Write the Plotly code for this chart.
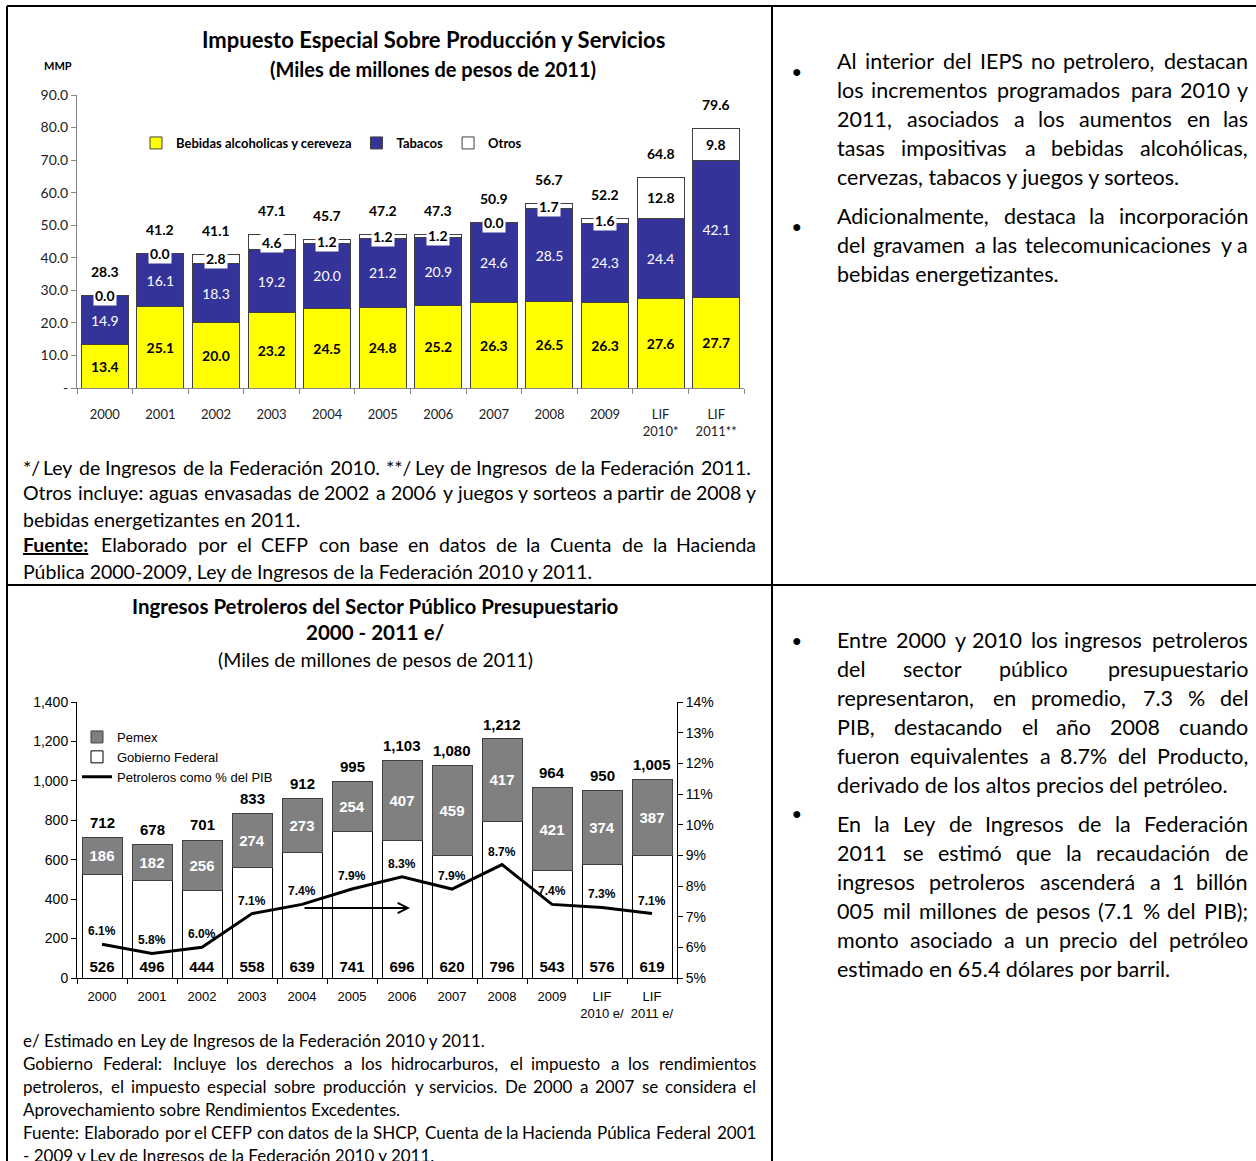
import re
import unicodedata
import plotly.graph_objects as go

# Impuesto Especial Sobre Producción y Servicios (miles de millones de pesos de 2011)
anios_ieps = ["2000", "2001", "2002", "2003", "2004", "2005", "2006", "2007",
              "2008", "2009", "LIF<br>2010*", "LIF<br>2011**"]
bebidas = [13.4, 25.1, 20.0, 23.2, 24.5, 24.8, 25.2, 26.3, 26.5, 26.3, 27.6, 27.7]
tabacos = [14.9, 16.1, 18.3, 19.2, 20.0, 21.2, 20.9, 24.6, 28.5, 24.3, 24.4, 42.1]
otros = [0.0, 0.0, 2.8, 4.6, 1.2, 1.2, 1.2, 0.0, 1.7, 1.6, 12.8, 9.8]
total_ieps = [28.3, 41.2, 41.1, 47.1, 45.7, 47.2, 47.3, 50.9, 56.7, 52.2, 64.8, 79.6]

# Ingresos petroleros del sector público presupuestario
anios_pet = ["2000", "2001", "2002", "2003", "2004", "2005", "2006", "2007",
             "2008", "2009", "LIF<br>2010 e/", "LIF<br>2011 e/"]
gob_federal = [526, 496, 444, 558, 639, 741, 696, 620, 796, 543, 576, 619]
pemex = [186, 182, 256, 274, 273, 254, 407, 459, 417, 421, 374, 387]
total_pet = [712, 678, 701, 833, 912, 995, 1103, 1080, 1212, 964, 950, 1005]
pct_pib = [6.1, 5.8, 6.0, 7.1, 7.4, 7.9, 8.3, 7.9, 8.7, 7.4, 7.3, 7.1]

# Textos de la página
notas_ieps = [
    "*/ Ley de Ingresos de la Federación 2010. **/ Ley de Ingresos de la Federación 2011.",
    "Otros incluye: aguas envasadas de 2002 a 2006 y juegos y sorteos a partir de 2008 y",
    "bebidas energetizantes en 2011.",
    "<b><span style='text-decoration:underline'>Fuente:</span></b> Elaborado por el CEFP con base en datos de la Cuenta de la Hacienda",
    "Pública 2000-2009, Ley de Ingresos de la Federación 2010 y 2011.",
]
notas_pet = [
    "e/ Estimado en Ley de Ingresos de la Federación 2010 y 2011.",
    "Gobierno Federal: Incluye los derechos a los hidrocarburos, el impuesto a los rendimientos",
    "petroleros, el impuesto especial sobre producción y servicios. De 2000 a 2007 se considera el",
    "Aprovechamiento sobre Rendimientos Excedentes.",
    "Fuente: Elaborado por el CEFP con datos de la SHCP, Cuenta de la Hacienda Pública Federal 2001",
    "- 2009 y Ley de Ingresos de la Federación 2010 y 2011.",
]
texto_ieps = [
    "Al interior del IEPS no petrolero, destacan",
    "los incrementos programados para 2010 y",
    "2011, asociados a los aumentos en las",
    "tasas impositivas a bebidas alcohólicas,",
    "cervezas, tabacos y juegos y sorteos.",
    "Adicionalmente, destaca la incorporación",
    "del gravamen a las telecomunicaciones y a",
    "bebidas energetizantes.",
]
texto_pet = [
    "Entre 2000 y 2010 los ingresos petroleros",
    "del sector público presupuestario",
    "representaron, en promedio, 7.3 % del",
    "PIB, destacando el año 2008 cuando",
    "fueron equivalentes a 8.7% del Producto,",
    "derivado de los altos precios del petróleo.",
    "En la Ley de Ingresos de la Federación",
    "2011 se estimó que la recaudación de",
    "ingresos petroleros ascenderá a 1 billón",
    "005 mil millones de pesos (7.1 % del PIB);",
    "monto asociado a un precio del petróleo",
    "estimado en 65.4 dólares por barril.",
]

W, H = 1256, 1161
CAL = "Lato"
ARIAL = "Liberation Sans"

# anchos aproximados de Lato (fracción de em) para justificar el texto
ANCHO = {
    'a': .484, 'b': .548, 'c': .459, 'd': .548, 'e': .515, 'f': .323, 'g': .50, 'h': .546,
    'i': .233, 'j': .233, 'k': .49, 'l': .233, 'm': .82, 'n': .546, 'o': .549, 'p': .548,
    'q': .548, 'r': .37, 's': .423, 't': .347, 'u': .546, 'v': .49, 'w': .75, 'x': .47,
    'y': .49, 'z': .44,
    'A': .68, 'B': .64, 'C': .67, 'D': .74, 'E': .56, 'F': .54, 'G': .72, 'H': .75, 'I': .29,
    'J': .39, 'K': .66, 'L': .50, 'M': .90, 'N': .75, 'O': .79, 'P': .60, 'Q': .79, 'R': .62,
    'S': .52, 'T': .58, 'U': .72, 'V': .68, 'W': 1.0, 'X': .66, 'Y': .63, 'Z': .60,
    ',': .20, '.': .20, ':': .24, ';': .24, '%': .80, '(': .30, ')': .30, '/': .37,
    '*': .40, '-': .33,
}


def px(x):
    return x / W


def py(y):
    return 1 - y / H


def ancho_palabra(palabra, size):
    limpio = re.sub(r"<[^>]+>", "", palabra)
    total = 0
    for c in limpio:
        base = unicodedata.normalize("NFD", c)[0]
        total += 0.58 if base.isdigit() else ANCHO.get(base, 0.5)
    if "<b>" in palabra:
        total *= 1.05
    return total * size * 1.045


def linea(fig, texto, x0, x1, y, size, justificar=False):
    font = dict(family=CAL, size=size, color="black")
    comun = dict(xref="paper", yref="paper", showarrow=False, yanchor="middle",
                 borderpad=0, font=font)
    if not justificar:
        fig.add_annotation(x=px(x0), y=py(y), text=texto, xanchor="left", **comun)
        return
    palabras = re.split(r" (?![^<]*>)", texto)
    anchos = [ancho_palabra(p, size) for p in palabras]
    hueco = (x1 - x0 - sum(anchos)) / (len(palabras) - 1)
    x = x0
    for i, p in enumerate(palabras):
        if i == len(palabras) - 1:
            fig.add_annotation(x=px(x1), y=py(y), text=p, xanchor="right", **comun)
        else:
            fig.add_annotation(x=px(x), y=py(y), text=p, xanchor="left", **comun)
        x += anchos[i] + hueco


fig = go.Figure()

# ---- Grafico 1: IEPS ----
borde = dict(color="#404040", width=1)
fig.add_trace(go.Bar(x=anios_ieps, y=bebidas, name="Bebidas alcoholicas y cereveza",
                     marker=dict(color="#FFFF00", line=borde), width=0.845,
                     texttemplate="%{y:.1f}", textposition="inside", textangle=0,
                     insidetextanchor="middle",
                     textfont=dict(family=CAL, size=14, color="black", weight="bold"),
                     xaxis="x", yaxis="y", legend="legend"))
fig.add_trace(go.Bar(x=anios_ieps, y=tabacos, name="Tabacos",
                     marker=dict(color="#333399", line=borde), width=0.845,
                     texttemplate="%{y:.1f}", textposition="inside", textangle=0,
                     insidetextanchor="middle",
                     textfont=dict(family=CAL, size=14, color="white"),
                     xaxis="x", yaxis="y", legend="legend"))
fig.add_trace(go.Bar(x=anios_ieps, y=otros, name="Otros",
                     marker=dict(color="white", line=borde), width=0.845,
                     xaxis="x", yaxis="y", legend="legend"))

for i in range(len(anios_ieps)):
    medio = bebidas[i] + tabacos[i] + otros[i] / 2
    fig.add_annotation(x=i, y=medio, xref="x", yref="y", text=f"<b>{otros[i]:.1f}</b>",
                       showarrow=False, bgcolor="white", borderpad=1,
                       font=dict(family=CAL, size=14, color="black"))
    fig.add_annotation(x=i, y=total_ieps[i], xref="x", yref="y",
                       text=f"<b>{total_ieps[i]:.1f}</b>", showarrow=False,
                       yanchor="middle", yshift=24,
                       font=dict(family=CAL, size=14, color="black"))

# ---- Grafico 2: Ingresos petroleros ----
fig.add_trace(go.Bar(x=anios_pet, y=gob_federal, name="Gobierno Federal",
                     marker=dict(color="white", line=dict(color="black", width=1)), width=0.8,
                     texttemplate="%{y}", textposition="inside", textangle=0,
                     insidetextanchor="start",
                     textfont=dict(family=ARIAL, size=15, color="black", weight="bold"),
                     xaxis="x2", yaxis="y2", legend="legend2", legendrank=2))
fig.add_trace(go.Bar(x=anios_pet, y=pemex, name="Pemex",
                     marker=dict(color="#808080", line=dict(color="#404040", width=1)), width=0.8,
                     texttemplate="%{y}", textposition="inside", textangle=0,
                     insidetextanchor="middle",
                     textfont=dict(family=ARIAL, size=15, color="white", weight="bold"),
                     xaxis="x2", yaxis="y2", legend="legend2", legendrank=1))
fig.add_trace(go.Scatter(x=anios_pet, y=pct_pib, name="Petroleros como % del PIB",
                         mode="lines", line=dict(color="black", width=3),
                         xaxis="x2", yaxis="y3", legend="legend2", legendrank=3))

for i in range(len(anios_pet)):
    fig.add_annotation(x=i, y=total_pet[i], xref="x2", yref="y2",
                       text=f"<b>{total_pet[i]:,}</b>", showarrow=False,
                       yanchor="middle", yshift=15,
                       font=dict(family=ARIAL, size=15, color="black"))
    fig.add_annotation(x=i, y=pct_pib[i], xref="x2", yref="y3",
                       text=f"<b>{pct_pib[i]:.1f}%</b>", showarrow=False,
                       yanchor="middle", yshift=13,
                       font=dict(family=ARIAL, size=12, color="black"))

# flecha horizontal dentro del grafico
fig.add_annotation(x=6.16, y=355, ax=4.02, ay=355, xref="x2", yref="y2",
                   axref="x2", ayref="y2", text="", showarrow=True,
                   arrowhead=5, arrowsize=1, arrowwidth=2, arrowcolor="black")

# ---- Titulos ----
titulos = [
    ("<b>Impuesto Especial Sobre Producción y Servicios</b>", 433, 40, 22, CAL),
    ("<b>(Miles de millones de pesos de 2011)</b>", 433, 69, 20, CAL),
    ("<b>MMP</b>", 58, 65, 11, CAL),
    ("<b>Ingresos Petroleros del Sector Público Presupuestario</b>", 375, 606, 20.5, CAL),
    ("<b>2000 - 2011 e/</b>", 375, 632, 20.5, CAL),
    ("(Miles de millones de pesos de 2011)", 375, 659, 19.5, CAL),
]
for texto, x, y, size, fam in titulos:
    fig.add_annotation(x=px(x), y=py(y), xref="paper", yref="paper", text=texto,
                       showarrow=False, xanchor="center", yanchor="middle",
                       font=dict(family=fam, size=size, color="black"))

# ---- Notas al pie ----
for i, t in enumerate(notas_ieps):
    linea(fig, t, 22, [752, 757, 0, 757, 0][i], 467 + 26 * i, 19.5, i in (0, 1, 3))
for i, t in enumerate(notas_pet):
    linea(fig, t, 22, 757, 1040 + 23 * i, 17, i in (1, 2, 4))

# ---- Texto de la columna derecha ----
y_ieps = [61, 90, 119, 148, 177, 216, 245, 274]
for i, t in enumerate(texto_ieps):
    linea(fig, t, 836, 1249, y_ieps[i], 21.5, i not in (4, 7))
y_pet = [640, 669, 698, 727, 756, 785, 824, 853, 882, 911, 940, 969]
for i, t in enumerate(texto_pet):
    linea(fig, t, 836, 1249, y_pet[i], 21.5, i not in (5, 11))
for yb in (61, 216, 640, 824):
    fig.add_annotation(x=px(797), y=py(yb), xref="paper", yref="paper", text="●",
                       showarrow=False, font=dict(family=ARIAL, size=16, color="black"))

# ---- Bordes de la tabla ----
for x0, y0, x1, y1 in [(7, 6, 1256, 6), (7, 6, 7, 1161), (772, 6, 772, 1161), (7, 585, 1256, 585)]:
    fig.add_shape(type="line", xref="paper", yref="paper",
                  x0=px(x0), y0=py(y0), x1=px(x1), y1=py(y1),
                  line=dict(color="black", width=2))

gris = "#868686"
fig.update_layout(
    template="none",
    width=W, height=H, margin=dict(l=0, r=0, t=0, b=0, pad=0),
    paper_bgcolor="white", plot_bgcolor="white",
    barmode="stack", showlegend=True,
    xaxis=dict(domain=[px(77), px(744)], anchor="y", type="category",
               categoryarray=anios_ieps, range=[-0.5, 11.5], automargin=False,
               showline=True, linecolor=gris, ticks="outside", tickson="boundaries",
               ticklen=5, tickcolor=gris, ticklabelstandoff=14, tickangle=0,
               showgrid=False, zeroline=False,
               tickfont=dict(family=CAL, size=13, color="#222")),
    yaxis=dict(domain=[py(388), py(95)], anchor="x", range=[0, 90], automargin=False,
               tickvals=[0, 10, 20, 30, 40, 50, 60, 70, 80, 90],
               ticktext=["-", "10.0", "20.0", "30.0", "40.0", "50.0", "60.0", "70.0", "80.0", "90.0"],
               showline=True, linecolor=gris, ticks="outside", ticklen=5, tickcolor=gris,
               showgrid=False, zeroline=False,
               tickfont=dict(family=CAL, size=14, color="#222")),
    xaxis2=dict(domain=[px(77), px(677)], anchor="y2", type="category",
                categoryarray=anios_pet, range=[-0.5, 11.5], automargin=False,
                showline=True, linecolor="black", ticks="outside", tickson="boundaries",
                ticklen=5, tickcolor="black", ticklabelstandoff=6, tickangle=0,
                showgrid=False, zeroline=False,
                tickfont=dict(family=ARIAL, size=13, color="black")),
    yaxis2=dict(domain=[py(978), py(702)], anchor="x2", range=[0, 1400], dtick=200,
                tickformat=",", automargin=False,
                showline=True, linecolor="black", ticks="outside",
                ticklen=5, tickcolor="black", showgrid=False, zeroline=False,
                tickfont=dict(family=ARIAL, size=14, color="black")),
    yaxis3=dict(overlaying="y2", side="right", anchor="x2", range=[5, 14], dtick=1,
                ticksuffix="%", automargin=False,
                showline=True, linecolor="black", ticks="outside",
                ticklen=5, tickcolor="black", showgrid=False, zeroline=False,
                tickfont=dict(family=ARIAL, size=14, color="black")),
    yaxis4=dict(overlaying="y2", side="right", anchor="x2", range=[5, 14], dtick=1,
                automargin=False, showticklabels=False, showline=False,
                ticks="inside", ticklen=5, tickcolor="black", showgrid=False, zeroline=False),
    legend=dict(orientation="h", x=px(136), y=py(143), xanchor="left", yanchor="middle",
                bgcolor="rgba(0,0,0,0)", itemwidth=30, traceorder="normal",
                font=dict(family=CAL, size=13, color="black", weight="bold")),
    legend2=dict(x=px(77), y=py(722), xanchor="left", yanchor="top",
                 bgcolor="rgba(0,0,0,0)", itemwidth=30, tracegroupgap=0, traceorder="normal",
                 font=dict(family=ARIAL, size=13, color="black")),
)

# la pagina trae margen en el body; se quita para que la figura empiece en 0,0
fig.write_html("out.html", config={"displayModeBar": False},
               post_script="document.body.style.margin = '0';")
